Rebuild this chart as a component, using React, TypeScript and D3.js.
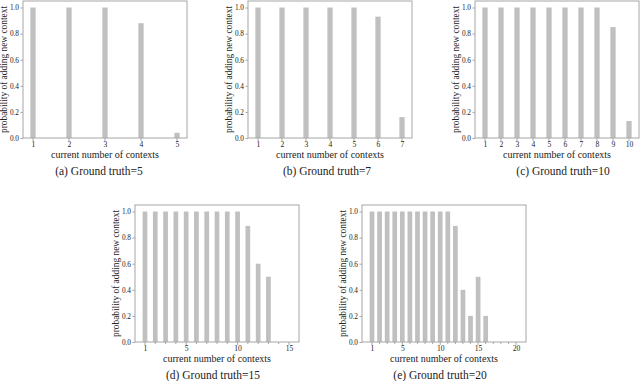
import React, { useEffect, useRef } from "react";
import * as d3 from "d3";

// probability values, one array per panel
const truth5 = [1, 1, 1, 0.88, 0.04];
const truth7 = [1, 1, 1, 1, 1, 0.93, 0.16];
const truth10 = [1, 1, 1, 1, 1, 1, 1, 1, 0.85, 0.13];
const truth15 = [1, 1, 1, 1, 1, 1, 1, 1, 1, 1, 0.89, 0.6, 0.5, 0, 0];
const truth20 = [1, 1, 1, 1, 1, 1, 1, 1, 1, 1, 1, 0.89, 0.4, 0.2, 0.5, 0.2, 0, 0, 0, 0];

const yTicks = [0, 0.2, 0.4, 0.6, 0.8, 1.0];
const labelsDense15 = [1, 5, 10, 15];
const labelsDense20 = [1, 5, 10, 15, 20];

const captions = [
  "(a)  Ground truth=5",
  "(b)  Ground truth=7",
  "(c)  Ground truth=10",
  "(d)  Ground truth=15",
  "(e)  Ground truth=20",
];

const xLabel = "current number of contexts";
const yLabel = "probability of adding new context";

const W = 640, H = 381;
const FW = 164, FH = 137;
const FONT = "Liberation Serif, Times New Roman, serif";
const BAR = "#c0c0c0";
const FRAME = "#a6a6a6";
const INK = "#222";

type PanelCfg = {
  data: number[];
  left: number;
  top: number;
  labels: number[] | null;
  caption: string;
  capDx: number;
  barW: number;
};

const panels: PanelCfg[] = [
  { data: truth5, left: 23, top: 1, labels: null, caption: captions[0], capDx: -6, barW: 5.3 },
  { data: truth7, left: 248, top: 1, labels: null, caption: captions[1], capDx: -3, barW: 5.3 },
  { data: truth10, left: 475, top: 1, labels: null, caption: captions[2], capDx: 6, barW: 5.3 },
  { data: truth15, left: 135, top: 205, labels: labelsDense15, caption: captions[3], capDx: -4, barW: 4.7 },
  { data: truth20, left: 362, top: 205, labels: labelsDense20, caption: captions[4], capDx: -4, barW: 4.7 },
];

function drawPanel(root: d3.Selection<SVGSVGElement, unknown, null, undefined>, p: PanelCfg) {
  const n = p.data.length;
  const idx = d3.range(1, n + 1);
  const x = d3.scaleLinear().domain([1, n]).range([10, FW - 10]);
  const y = d3.scaleLinear().domain([0, 1.05]).range([FH, 0]);

  const g = root.append("g").attr("transform", `translate(${p.left},${p.top})`);

  // bars
  g.selectAll("rect.bar")
    .data(p.data)
    .enter()
    .append("rect")
    .attr("class", "bar")
    .attr("x", (_d, i) => x(i + 1) - p.barW / 2)
    .attr("y", d => y(d))
    .attr("width", p.barW)
    .attr("height", d => FH - y(d))
    .attr("fill", BAR);

  // frame
  g.append("rect")
    .attr("x", 0)
    .attr("y", 0)
    .attr("width", FW)
    .attr("height", FH)
    .attr("fill", "none")
    .attr("stroke", FRAME)
    .attr("stroke-width", 1);

  // y axis
  const ya = g.append("g").call(d3.axisLeft(y).tickValues(yTicks).tickFormat(d3.format(".1f")).tickSize(2.5).tickPadding(1.5));
  ya.select(".domain").remove();
  ya.selectAll("line").attr("stroke", FRAME);
  ya.selectAll("text").style("font-family", FONT).attr("font-size", 7.3).attr("fill", INK);

  // x axis, with small ticks on every integer
  const labelled = p.labels ?? idx;
  const xa = g.append("g").attr("transform", `translate(0,${FH})`)
    .call(d3.axisBottom(x).tickValues(idx).tickSize(0).tickFormat(d => (labelled.includes(+d) ? String(d) : "")).tickPadding(3.5));
  xa.select(".domain").remove();
  xa.selectAll("line").remove();
  xa.selectAll("text").style("font-family", FONT).attr("font-size", 7.6).attr("fill", INK);
  g.selectAll("line.xt")
    .data(idx)
    .enter()
    .append("line")
    .attr("class", "xt")
    .attr("x1", d => x(d))
    .attr("x2", d => x(d))
    .attr("y1", FH)
    .attr("y2", d => FH + (labelled.includes(d) ? 3 : 2))
    .attr("stroke", FRAME);

  // axis titles
  g.append("text")
    .attr("x", FW / 2)
    .attr("y", FH + 19.5)
    .attr("text-anchor", "middle")
    .style("font-family", FONT)
    .attr("font-size", 10)
    .attr("fill", INK)
    .text(xLabel);
  g.append("text")
    .attr("transform", `translate(-16,${FH / 2}) rotate(-90)`)
    .attr("text-anchor", "middle")
    .style("font-family", FONT)
    .attr("font-size", 9.4)
    .attr("fill", INK)
    .text(yLabel);

  // caption
  g.append("text")
    .attr("x", FW / 2 + p.capDx)
    .attr("y", Math.min(FH + 37, H - p.top - 2))
    .attr("text-anchor", "middle")
    .style("font-family", FONT)
    .attr("font-size", 11.5)
    .attr("fill", INK)
    .text(p.caption);
}

export default function App() {
  const ref = useRef<SVGSVGElement>(null);

  useEffect(() => {
    const svg = d3.select(ref.current!);
    svg.selectAll("*").remove();
    panels.forEach(p => drawPanel(svg, p));
  }, []);

  return (
    <svg
      ref={ref}
      width={W}
      height={H}
      style={{ position: "absolute", left: 0, top: 0, background: "#fff" }}
    />
  );
}
